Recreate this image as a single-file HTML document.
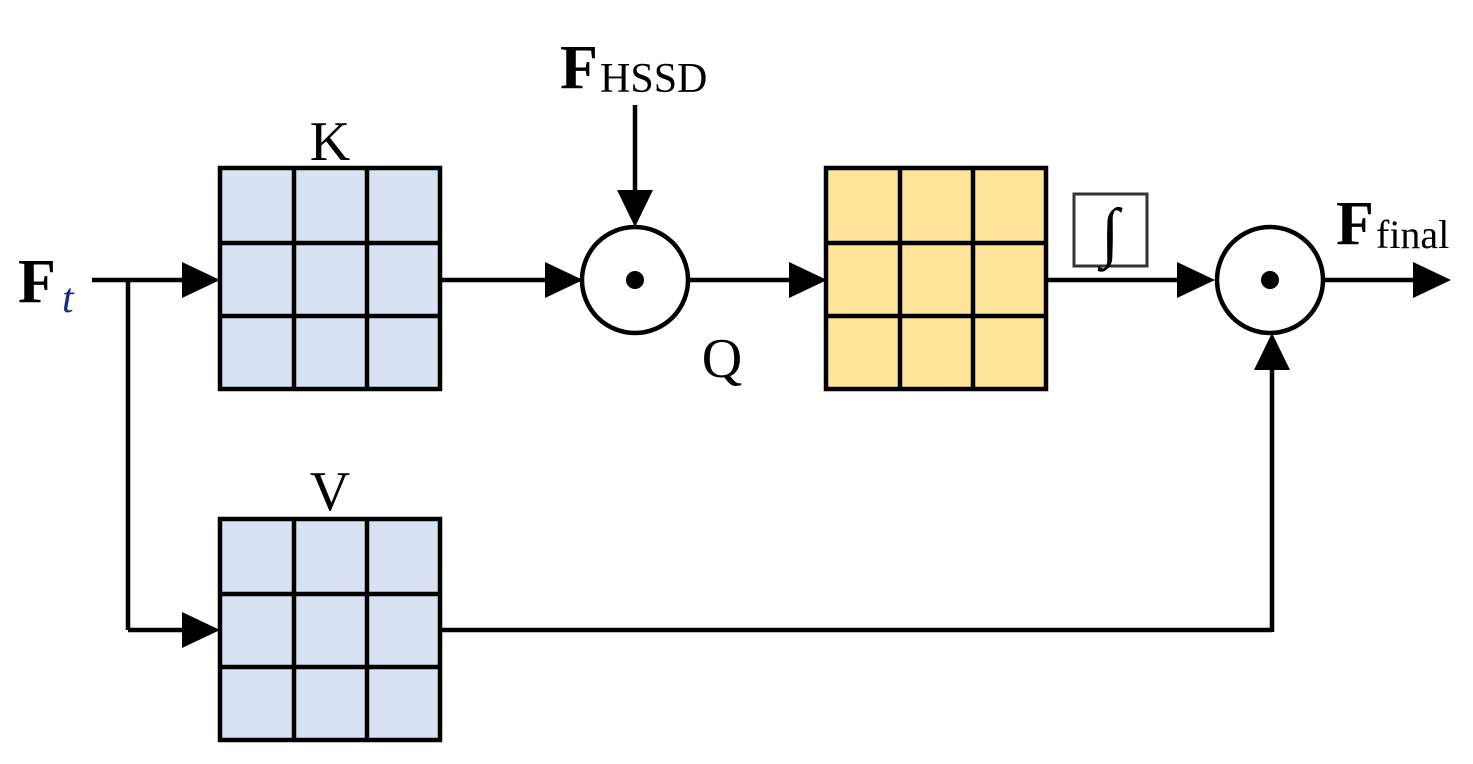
<!DOCTYPE html>
<html><head><style>body{margin:0;background:#fff}</style></head><body>
<svg width="1473" height="764" viewBox="0 0 1473 764" xmlns="http://www.w3.org/2000/svg" style="display:block">
<defs>
<g id="grid">
<rect x="0" y="0" width="220" height="221" stroke="#000" stroke-width="4.5"/>
<line x1="74" y1="0" x2="74" y2="221" stroke="#000" stroke-width="4.5"/>
<line x1="147" y1="0" x2="147" y2="221" stroke="#000" stroke-width="4.5"/>
<line x1="0" y1="75" x2="220" y2="75" stroke="#000" stroke-width="4.5"/>
<line x1="0" y1="148" x2="220" y2="148" stroke="#000" stroke-width="4.5"/>
</g>
</defs>
<g fill="#d9e2f2"><use href="#grid" x="220" y="168"/><use href="#grid" x="220" y="519"/></g>
<g fill="#fee599"><use href="#grid" x="826" y="168"/></g>
<g stroke="#000" stroke-width="4.5" fill="none">
<line x1="92" y1="280" x2="190" y2="280"/>
<line x1="128" y1="280" x2="128" y2="630"/>
<line x1="128" y1="630" x2="190" y2="630"/>
<line x1="440" y1="280" x2="552" y2="280"/>
<line x1="635" y1="105" x2="635" y2="196"/>
<line x1="688" y1="280" x2="796" y2="280"/>
<line x1="1046" y1="280" x2="1186" y2="280"/>
<line x1="1323" y1="280" x2="1420" y2="280"/>
<line x1="440" y1="630" x2="1272" y2="630"/>
<line x1="1272" y1="632" x2="1272" y2="364"/>
<circle cx="635" cy="280" r="53"/>
<circle cx="1270" cy="280" r="53"/>
</g>
<circle cx="635" cy="280" r="9"/><circle cx="1270" cy="280" r="9"/>
<g fill="#000">
<polygon points="182,262 220,280 182,298"/>
<polygon points="182,612 220,630 182,648"/>
<polygon points="545,262 583,280 545,298"/>
<polygon points="617,190 635,227 653,190"/>
<polygon points="789,262 827,280 789,298"/>
<polygon points="1177,262 1215,280 1177,298"/>
<polygon points="1413,262 1451,280 1413,298"/>
<polygon points="1254,370 1272,333 1290,370"/>
</g>
<rect x="1074" y="194" width="73" height="72" fill="none" stroke="#333" stroke-width="3"/>
<g font-family="Liberation Serif, serif" fill="#000">
<text x="1110" y="254" font-size="66" text-anchor="middle" transform="translate(1110 0) scale(1 1) translate(-1110 0)">∫</text>
<text x="18" y="302" font-size="62" font-weight="bold">F</text>
<text x="62" y="312" font-size="42" font-style="italic" fill="#1a2a80">t</text>
<text x="330" y="160" font-size="56" text-anchor="middle">K</text>
<text x="330" y="510" font-size="56" text-anchor="middle">V</text>
<text x="722" y="377" font-size="56" text-anchor="middle">Q</text>
<text x="560" y="88" font-size="62" font-weight="bold">F</text>
<text x="600" y="92" font-size="42">HSSD</text>
<text x="1336" y="244" font-size="62" font-weight="bold">F</text>
<text x="1376" y="248" font-size="40">final</text>
</g>
</svg>
</body></html>
